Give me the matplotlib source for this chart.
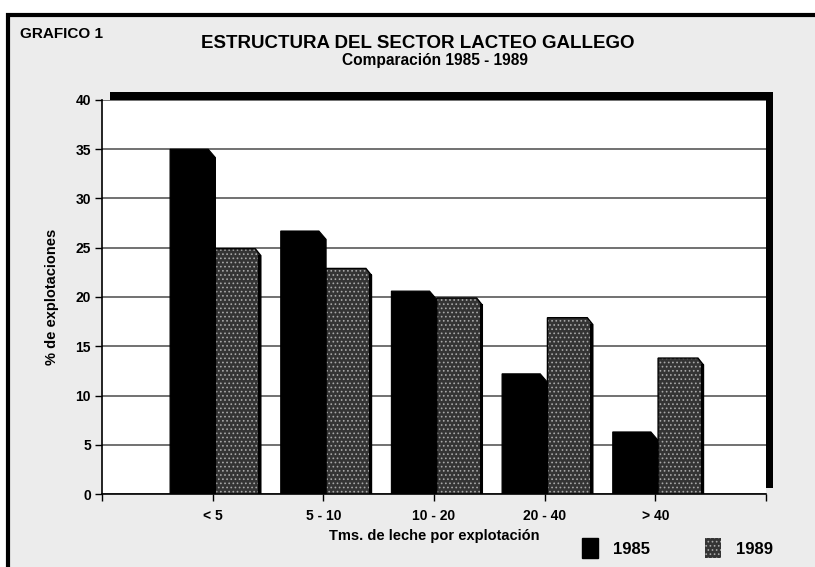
import matplotlib.pyplot as plt
import numpy as np
from matplotlib.patches import Patch, Rectangle

plt.rcParams.update({
    "font.family": ["Liberation Sans", "DejaVu Sans"],
    "font.weight": "bold",
    "hatch.linewidth": 0.7,
})

categorias = ["< 5", "5 - 10", "10 - 20", "20 - 40", "> 40"]
v1985 = [35.0, 26.7, 20.6, 12.2, 6.3]
v1989 = [24.9, 22.9, 19.9, 17.9, 13.8]

W, H = 815, 567
fig = plt.figure(figsize=(8.15, 5.67), dpi=100)
fig.patch.set_facecolor("white")

# fondo gris con marco negro (arriba e izquierda)
fig.patches.append(Rectangle((8 / W, -0.1), 1.2, 1 - 15 / H + 0.1, transform=fig.transFigure,
                             facecolor="#ececec", edgecolor="black", lw=3, zorder=0))
# sombra negra del panel (efecto 3D)
fig.patches.append(Rectangle((110 / W, 1 - 488 / H), 663 / W, 396 / H, transform=fig.transFigure,
                             facecolor="black", edgecolor="none", zorder=1))

ax = fig.add_axes([102 / W, 1 - 494 / H, 664 / W, 394 / H])
ax.set_facecolor("white")
ax.set_zorder(2)

x = np.arange(1, len(categorias) + 1)
bw = 0.41
off = 0.025
gris = "#343434"
puntos = "#a8a8a8"


def barra(x0, x1, h, cw, ch):
    xs = [x0, x0, x1 - cw, x1, x1]
    ys = [0, h, h, h - ch, 0]
    return xs, ys


for xi, a, b in zip(x, v1985, v1989):
    xs, ys = barra(xi + off - bw, xi + off, a, 0.065, 0.85)
    ax.fill(xs, ys, facecolor="black", edgecolor="black", lw=0.8, zorder=3)
    xs, ys = barra(xi + off, xi + off + bw, b, 0.05, 0.7)
    ax.fill(xs, ys, facecolor=gris, edgecolor=puntos, hatch="....", lw=0, zorder=3)
    ax.fill(xs, ys, fill=False, edgecolor="black", lw=1.0, zorder=4)
    # lado derecho oscuro
    ax.plot([xi + off + bw - 0.012] * 2, [0, b - 0.7], color="black", lw=2.2, zorder=4)

ax.set_xlim(0, 6)
ax.set_ylim(0, 40)
ax.set_yticks(np.arange(0, 41, 5))
ax.set_xticks(np.arange(0, 7))
ax.set_xticklabels([""] + categorias + [""])
ax.tick_params(axis="both", direction="out", length=5, width=1, labelsize=10, colors="black")
ax.tick_params(axis="y", pad=3)
ax.tick_params(axis="x", pad=6)
for lab in ax.get_xticklabels() + ax.get_yticklabels():
    lab.set_fontweight("bold")

ax.yaxis.grid(True, color="#4a4a4a", lw=1.1)
ax.set_axisbelow(True)
for s in ["top", "right"]:
    ax.spines[s].set_visible(False)
ax.spines["left"].set_linewidth(1.2)
ax.spines["bottom"].set_linewidth(1.2)

ax.set_ylabel("% de explotaciones", fontsize=10.5, fontweight="bold", labelpad=12)
ax.set_xlabel("Tms. de leche por explotación", fontsize=10.5, fontweight="bold", labelpad=4)

fig.text(20 / W, 1 - 38 / H, "GRAFICO 1", fontsize=11, fontweight="bold", ha="left", va="baseline")
fig.text(418 / W, 1 - 48 / H, "ESTRUCTURA DEL SECTOR LACTEO GALLEGO", fontsize=13.5,
         fontweight="bold", ha="center", va="baseline")
fig.text(435 / W, 1 - 65 / H, "Comparación 1985 - 1989", fontsize=11.2, fontweight="bold",
         ha="center", va="baseline")

handles = [Patch(facecolor="black", edgecolor="black", label="1985"),
           Patch(facecolor=gris, edgecolor=puntos, hatch="....", lw=0, label="1989")]
fig.legend(handles=handles, loc="center left", bbox_to_anchor=(582 / W, 1 - 548 / H), ncol=2,
           frameon=False, handlelength=0.95, handleheight=1.45,
           handletextpad=0.9, columnspacing=3.3, borderpad=0, borderaxespad=0,
           prop={"weight": "bold", "size": 12})

fig.savefig("out.png", dpi=100)
